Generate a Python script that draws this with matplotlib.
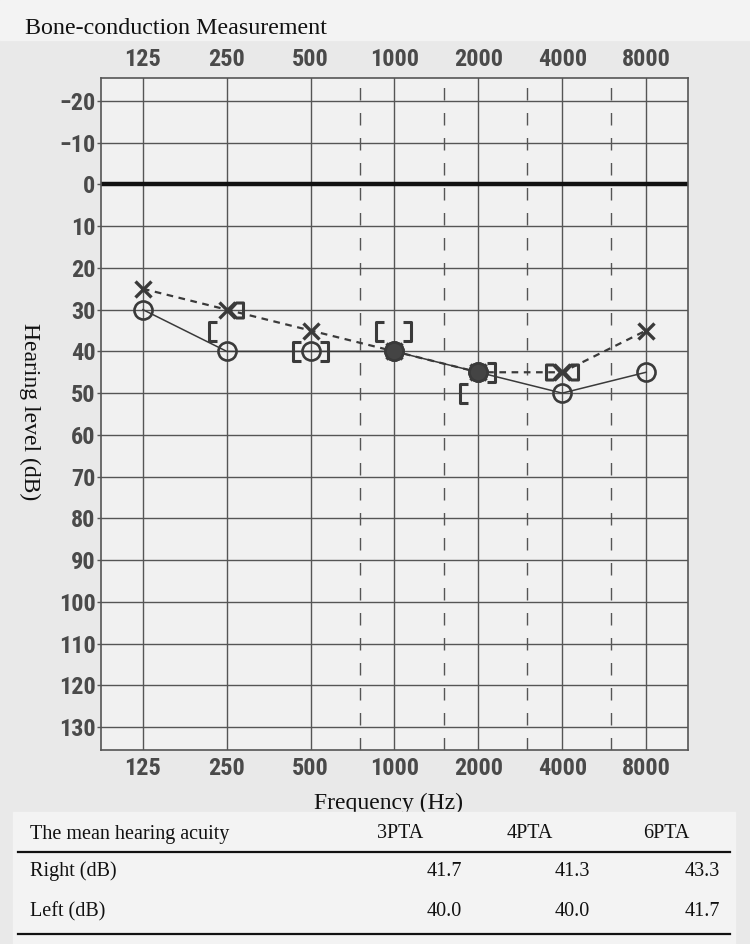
import numpy as np
import matplotlib
matplotlib.use("Agg")
import matplotlib.pyplot as plt
from matplotlib.path import Path
from matplotlib.patches import Rectangle
from matplotlib.lines import Line2D
from matplotlib import font_manager

# audiogram values (dB HL)
freqs = [125, 250, 500, 1000, 2000, 4000, 8000]
half_octaves = [750, 1500, 3000, 6000]
right_air = [30, 40, 40, 40, 45, 50, 45]        # O, solid line
left_air = [25, 30, 35, 40, 45, 45, 35]         # X, dashed line
right_bc_f, right_bc = [250, 500, 1000, 2000], [35, 40, 35, 50]    # "["
left_bc_f, left_bc = [500, 1000, 2000], [40, 35, 45]               # "]"
flag_r_f, flag_r = [250, 4000], [30, 45]                           # "<]"
flag_l_f, flag_l = [4000], [45]                                    # "[>"
y_ticks = list(range(-20, 140, 10))

# table
pta_cols = ["3PTA", "4PTA", "6PTA"]
pta_right = ["41.7", "41.3", "43.3"]
pta_left = ["40.0", "40.0", "41.7"]

# tick font: a narrow sans if one exists, else Liberation Sans bold
names = {f.name for f in font_manager.fontManager.ttflist}
tick_font = dict(family="Liberation Sans", size=15, weight="bold")
for nm, sz in [("Liberation Sans Narrow", 18), ("Roboto Condensed", 17.5)]:
    if nm in names:
        tick_font = dict(family=nm, size=sz, weight="bold")
        break
serif = "Liberation Serif"
ink = "#3a3a3a"

W, H = 750, 944
fig = plt.figure(figsize=(W / 100, H / 100), dpi=100, facecolor="#e9e9e9")
fig.patches.append(Rectangle((0, 1 - 40 / H), 1, 40 / H, transform=fig.transFigure,
                             color="#f3f3f3", zorder=0))

ax = fig.add_axes([101 / W, 1 - 750 / H, 587 / W, 672 / H], facecolor="#f1f1f1")
ax.set_xscale("log", base=2)
ax.set_xlim(125 / np.sqrt(2), 8000 * np.sqrt(2))
ax.set_ylim(135.5, -25.5)

# grid
for f in freqs:
    ax.axvline(f, color="#555555", lw=1.0, zorder=1)
for f in half_octaves:
    ax.axvline(f, color="#555555", lw=1.0, ls=(0, (9, 9)), zorder=1)
for y in y_ticks:
    ax.axhline(y, lw=3.2 if y == 0 else 1.0,
               color="#111111" if y == 0 else "#555555", zorder=1)

ax.set_xticks(freqs)
ax.set_xticklabels([str(f) for f in freqs])
ax.minorticks_off()
ax.set_yticks(y_ticks)
ax.set_yticklabels([f"\u2212{-y}" if y < 0 else str(y) for y in y_ticks])
ax.tick_params(axis="x", length=0, labeltop=True, pad=5, labelcolor="#4a4a4a")
ax.tick_params(axis="y", length=3, width=1.0, color="#555555", pad=1,
               labelcolor="#4a4a4a")
for lab in ax.get_yticklabels():
    lab.set_fontproperties(font_manager.FontProperties(**tick_font))
for t in ax.xaxis.get_major_ticks():
    t.label1.set_fontproperties(font_manager.FontProperties(**tick_font))
    t.label2.set_fontproperties(font_manager.FontProperties(**tick_font))
for s in ax.spines.values():
    s.set_color("#555555")
    s.set_linewidth(1.2)


def px_marker(verts, codes):
    # marker path given in pixel units, returns path and markersize in points
    verts = np.asarray(verts, float)
    return Path(verts, codes), 1.44 * np.abs(verts).max()


M, L, C = Path.MOVETO, Path.LINETO, Path.CLOSEPOLY
open_l = px_marker([(-10, 9.5), (-18, 9.5), (-18, -9.5), (-10, -9.5)], [M, L, L, L])
open_r = px_marker([(9, 9.5), (17, 9.5), (17, -9.5), (9, -9.5)], [M, L, L, L])
flag_rt = px_marker([(2, 0), (9, 7.5), (16, 7.5), (16, -7.5), (9, -7.5), (2, 0)],
                    [M, L, L, L, L, C])
flag_lt = px_marker([(-2, 0), (-9, 7.5), (-16, 7.5), (-16, -7.5), (-9, -7.5), (-2, 0)],
                    [M, L, L, L, L, C])

# air conduction
ax.plot(freqs, right_air, color=ink, lw=1.1, marker="o", ms=13, mew=1.9,
        mfc="none", zorder=4)
ax.plot(freqs, left_air, color=ink, lw=1.6, ls=(0, (3, 2.5)), marker="x", ms=12,
        mew=2.4, zorder=4)
same = [i for i in range(len(freqs)) if right_air[i] == left_air[i]]
ax.plot(freqs, right_air, ls="none", marker="o", ms=13, mew=1.9, mfc="#444444",
        mec=ink, markevery=same, zorder=5)

# bone conduction
for fx, vals, (pth, ms) in [(right_bc_f, right_bc, open_l), (left_bc_f, left_bc, open_r),
                            (flag_r_f, flag_r, flag_rt), (flag_l_f, flag_l, flag_lt)]:
    ax.plot(fx, vals, ls="none", marker=pth, ms=ms, mew=2.2, mec=ink, mfc="none",
            zorder=5)

# labels
fig.text(25 / W, 1 - 28 / H, "Bone-conduction Measurement", family=serif, size=17.3,
         va="center", ha="left", color="#111111")
fig.text(30 / W, 1 - 412 / H, "Hearing level (dB)", family=serif, size=17,
         rotation=-90, va="center", ha="center", color="#111111")
fig.text(388 / W, 1 - 803 / H, "Frequency (Hz)", family=serif, size=17,
         va="center", ha="center", color="#111111", zorder=3)

# table
fig.patches.append(Rectangle((13 / W, 0), 722 / W, 1 - 812 / H, transform=fig.transFigure,
                             color="#f3f3f3", zorder=4))
tsize = 14.5
fig.text(30 / W, 1 - 834 / H, "The mean hearing acuity", family=serif, size=tsize,
         va="center", color="#111111", zorder=5)
for x, c in zip([400, 530, 666], pta_cols):
    fig.text(x / W, 1 - 834 / H, c, family=serif, size=tsize, va="center",
             ha="center", color="#111111", zorder=5)
for y, name, vals in [(871, "Right (dB)", pta_right), (912, "Left (dB)", pta_left)]:
    fig.text(30 / W, 1 - y / H, name, family=serif, size=tsize, va="center",
             color="#111111", zorder=5)
    for x, v in zip([462, 590, 720], vals):
        fig.text(x / W, 1 - y / H, v, family=serif, size=tsize, va="center",
                 ha="right", color="#111111", zorder=5)
for y in [852, 934]:
    fig.lines.append(Line2D([18 / W, 730 / W], [1 - y / H] * 2, transform=fig.transFigure,
                            color="#111111", lw=1.6, zorder=5))

fig.savefig("out.png", dpi=100, facecolor=fig.get_facecolor())
